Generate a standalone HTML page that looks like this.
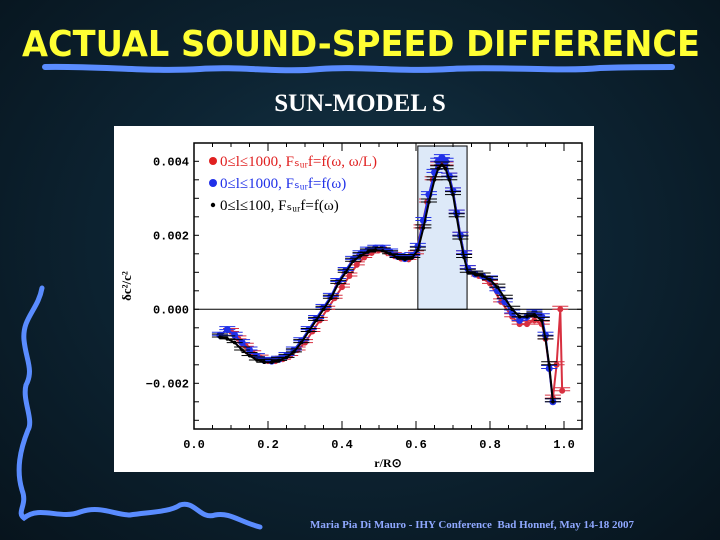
<!DOCTYPE html>
<html><head><meta charset="utf-8"><style>
body{margin:0;width:720px;height:540px;overflow:hidden;background:#0b1e2c;}
#bg{position:absolute;left:0;top:0;width:720px;height:540px;background:radial-gradient(ellipse at 50% 45%,#16384a 0%,#0d2433 45%,#07141d 100%);}
.sub{position:absolute;left:0;top:90px;width:720px;text-align:center;font:bold 25px "Liberation Serif",serif;color:#fff;}
.foot{position:absolute;left:310px;top:519px;font:bold 11px "Liberation Serif",serif;color:#8fa8ff;}
svg{position:absolute;left:0;top:0;}
</style></head><body>
<div id="bg"></div>
<div class="sub">SUN-MODEL S</div>
<div class="foot">Maria Pia Di Mauro - IHY Conference&nbsp; Bad Honnef, May 14-18 2007</div>
<svg width="720" height="540" id="chart">
<text x="22" y="56" textLength="678" lengthAdjust="spacingAndGlyphs" font-family="DejaVu Sans, sans-serif" font-weight="bold" font-size="36" fill="#ffff33">ACTUAL SOUND-SPEED DIFFERENCE</text>
<path d="M45,67 C100,66 150,72 200,69 C240,66 280,73 320,69 C360,66 400,72 450,69 C500,66 560,72 600,68 C640,67 660,67 672,67" stroke="#5a8cff" stroke-width="6" fill="none" stroke-linecap="round"/>
<path d="M42,288 C38,310 22,318 24,340 C26,360 34,370 26,385 C22,400 34,420 28,430 C20,450 16,470 22,490 C28,505 16,512 24,518 C40,505 60,520 80,512 C100,505 115,515 130,515 C150,512 170,512 180,505 C195,500 200,520 215,515 C230,512 240,522 260,527" stroke="#5a8cff" stroke-width="5" fill="none" stroke-linecap="round"/>
<rect x="114" y="126" width="480" height="346" fill="#fff"/>
<g id="g"></g>
</svg>
<script>
const xs=[0.07,0.09,0.11,0.13,0.15,0.17,0.19,0.21,0.23,0.25,0.27,0.29,0.31,0.33,0.35,0.37,0.39,0.41,0.43,0.45,0.47,0.49,0.51,0.53,0.55,0.57,0.59,0.605,0.62,0.635,0.65,0.66,0.67,0.68,0.69,0.70,0.71,0.72,0.73,0.74,0.76,0.78,0.80,0.82,0.84,0.86,0.88,0.90,0.92,0.94,0.95,0.96,0.97];
const blackVals=[-0.00075,-0.0008,-0.0009,-0.0011,-0.00125,-0.00137,-0.00143,-0.00143,-0.00138,-0.0013,-0.00115,-0.0009,-0.0006,-0.0003,0.0,0.0003,0.0007,0.001,0.0013,0.00145,0.00155,0.0016,0.00158,0.0015,0.0014,0.00135,0.0014,0.0016,0.0022,0.0029,0.0035,0.0038,0.0039,0.0038,0.0035,0.0031,0.0025,0.0019,0.0014,0.001,0.00095,0.0009,0.0008,0.0006,0.0003,0.0,-0.0002,-0.0002,-0.00015,-0.0003,-0.0008,-0.0015,-0.0025];
const blueVals=[-0.0007,-0.00055,-0.0007,-0.0009,-0.0011,-0.00128,-0.00138,-0.0014,-0.00135,-0.00125,-0.0011,-0.00085,-0.00055,-0.00025,0.00005,0.00035,0.00075,0.00105,0.00135,0.0015,0.0016,0.00165,0.00165,0.00155,0.00143,0.00137,0.00145,0.0017,0.0024,0.0031,0.0037,0.004,0.0041,0.0040,0.0036,0.0032,0.0026,0.0020,0.0015,0.0011,0.00095,0.0009,0.00082,0.0005,0.0002,-0.0001,-0.0003,-0.0002,-0.0001,-0.0002,-0.0007,-0.0016,-0.0025];
const redXs=[0.10,0.12,0.14,0.16,0.18,0.20,0.22,0.24,0.26,0.28,0.30,0.32,0.34,0.36,0.38,0.40,0.42,0.44,0.46,0.48,0.50,0.52,0.54,0.56,0.58,0.60,0.615,0.63,0.645,0.66,0.67,0.68,0.69,0.70,0.71,0.72,0.73,0.74,0.77,0.80,0.83,0.86,0.88,0.90,0.92,0.94,0.95,0.96,0.97,0.98,0.99,0.995];
const redVals=[-0.0006,-0.0008,-0.001,-0.0012,-0.00132,-0.0014,-0.0014,-0.00135,-0.00125,-0.0011,-0.0009,-0.0006,-0.0003,0.0,0.0003,0.0006,0.0009,0.0012,0.0014,0.00152,0.0016,0.00155,0.00145,0.00137,0.00135,0.0015,0.0022,0.0029,0.0035,0.0039,0.0040,0.0039,0.0036,0.0032,0.0026,0.0020,0.0015,0.0011,0.0009,0.0007,0.0002,-0.0002,-0.0004,-0.0004,-0.0003,-0.0004,-0.0008,-0.0016,-0.0024,-0.0015,0.0,-0.0022];
const xTicks=[0.0,0.2,0.4,0.6,0.8,1.0];
const xTickLabels=["0.0","0.2","0.4","0.6","0.8","1.0"];
const yTicks=[-0.002,0.0,0.002,0.004];
const yTickLabels=["\u22120.002","0.000","0.002","0.004"];
const L=194,R=582,T=143,B=429;
const X=v=>L+v*370, Y=v=>309.3-v*37000;
const g=document.getElementById('g');const NS='http://www.w3.org/2000/svg';
function el(t,a,p){const e=document.createElementNS(NS,t);for(const k in a)e.setAttribute(k,a[k]);(p||g).appendChild(e);return e;}
let e=el('rect',{x:X(0.605),y:146,width:X(0.738)-X(0.605),height:Y(0)-146,fill:'#dde9f8',stroke:'#000','stroke-width':1});


e=el('line',{x1:L,x2:R,y1:Y(0),y2:Y(0),stroke:'#000'});


e=el('rect',{x:L,y:T,width:R-L,height:B-T,fill:'none',stroke:'#000','stroke-width':1.5});


for(let v=0;v<=1.04;v+=0.05){const big=Math.abs(v*10-Math.round(v*10))<1e-6&&Math.round(v*10)%2==0;const h=big?8:4;
el('line',{x1:X(v),x2:X(v),y1:B,y2:B-h,stroke:'#000'});el('line',{x1:X(v),x2:X(v),y1:T,y2:T+h,stroke:'#000'});}
for(let v=-0.003;v<=0.0045;v+=0.0005){el('line',{x1:L,x2:L+5,y1:Y(v),y2:Y(v),stroke:'#000'});el('line',{x1:R,x2:R-5,y1:Y(v),y2:Y(v),stroke:'#000'});}
xTicks.forEach((v,i)=>{const t=el('text',{x:X(v),y:B+19,'text-anchor':'middle','font-size':12,'font-weight':'bold','font-family':'Liberation Mono, monospace'});t.textContent=xTickLabels[i];

});
yTicks.forEach((v,i)=>{const t=el('text',{x:L-5,y:Y(v)+4,'text-anchor':'end','font-size':12,'font-weight':'bold','font-family':'Liberation Mono, monospace'});t.textContent=yTickLabels[i];

});
e=el('text',{x:388,y:467,'text-anchor':'middle','font-size':12,'font-weight':'bold','font-family':'Liberation Serif, serif'});e.textContent='r/R\u2299';


e=el('text',{x:131,y:286,'text-anchor':'middle','font-size':13,'font-weight':'bold','font-family':'Liberation Serif, serif',transform:'rotate(-90 131 286)'});e.textContent='\u03b4c\u00b2/c\u00b2';


function series(xa,ya,col,r,name){
 const d=xa.map((x,i)=>(i?'L':'M')+X(x)+','+Y(ya[i])).join(' ');
 let p=el('path',{d:d,stroke:col,'stroke-width':2,fill:'none'});
 
 
 xa.forEach((x,i)=>{el('line',{x1:X(x)-8,x2:X(x)+8,y1:Y(ya[i]),y2:Y(ya[i]),stroke:col,'stroke-width':1});
 el('line',{x1:X(x)-8,x2:X(x)+8,y1:Y(ya[i])-3,y2:Y(ya[i])-3,stroke:col,'stroke-width':1});
 const c=el('circle',{cx:X(x),cy:Y(ya[i]),r:r,fill:col});
 
 });
}
series(redXs,redVals,'#d83040',3,'red-series');
series(xs,blueVals,'#2030e8',3.5,'blue-series');
series(xs,blackVals,'#000',1.8,'black-series');
const leg=[['#e02020','0\u2264l\u22641000, F\u209b\u1d64\u1d63f=f(\u03c9, \u03c9/L)',4],['#2030e8','0\u2264l\u22641000, F\u209b\u1d64\u1d63f=f(\u03c9)',4],['#000','0\u2264l\u2264100,  F\u209b\u1d64\u1d63f=f(\u03c9)',2.2]];
leg.forEach((l,i)=>{const y=161+i*22;
 const c=el('circle',{cx:213,cy:y,r:l[2],fill:l[0]});
 
 
 const t=el('text',{x:220,y:y+5,'font-size':15,'font-family':'Liberation Serif, serif',fill:l[0]});t.textContent=l[1];
 
 });
</script>
</body></html>
